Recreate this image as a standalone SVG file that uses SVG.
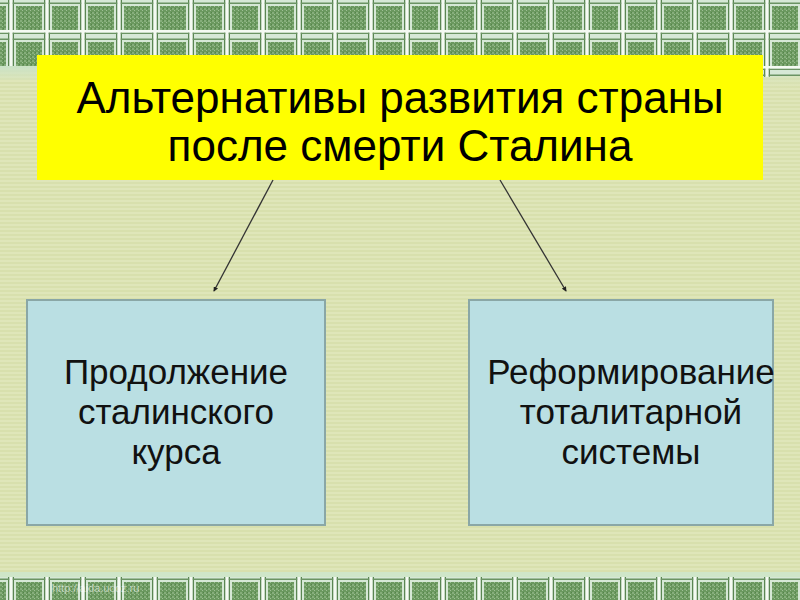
<svg xmlns="http://www.w3.org/2000/svg" width="800" height="600" viewBox="0 0 800 600">
<defs>
<pattern id="stripes" width="4" height="4" patternUnits="userSpaceOnUse">
<rect width="4" height="4" fill="#dfe6b9"/>
<rect y="2" width="4" height="2" fill="#d8e0ad"/>
</pattern>
<pattern id="texture" width="4" height="4" patternUnits="userSpaceOnUse">
<rect width="4" height="4" fill="#6a985e"/>
<rect width="2" height="2" fill="#86ae7b"/>
<rect x="2" y="2" width="1" height="1" fill="#9ec095"/>
<rect x="3" y="0" width="1" height="1" fill="#55834b"/>
</pattern>
<pattern id="plaid" width="36" height="36" patternUnits="userSpaceOnUse">
<rect width="36" height="36" fill="#d6e8d6"/>
<rect x="16" y="6" width="26" height="24" fill="url(#texture)"/>
<rect x="-20" y="6" width="26" height="24" fill="url(#texture)"/>
<rect x="16" y="-30" width="26" height="24" fill="url(#texture)"/>
<rect x="-20" y="-30" width="26" height="24" fill="url(#texture)"/>
<rect x="8" y="0" width="1.5" height="36" fill="#5a8652"/>
<rect x="12.5" y="0" width="1.5" height="36" fill="#5a8652"/>
<rect x="0" y="2.5" width="36" height="1.5" fill="#6b9463"/>
<rect x="0" y="32.5" width="36" height="1.5" fill="#6b9463"/>
<rect x="9.5" y="0" width="3" height="36" fill="#f4faf2"/>
<rect x="0" y="30" width="36" height="2.5" fill="#f4faf2"/>
</pattern>
<linearGradient id="fade" x1="0" y1="0" x2="0" y2="1">
<stop offset="0" stop-color="#c9e2c9"/>
<stop offset="1" stop-color="#dfe6b9" stop-opacity="0"/>
</linearGradient>
<marker id="arrow" viewBox="0 0 6 6" refX="5" refY="3" markerWidth="5" markerHeight="5" orient="auto" markerUnits="userSpaceOnUse">
<path d="M0,0 L6,3 L0,6 z" fill="#222"/>
</marker>
</defs>
<style>
.box{fill:#badfe3;stroke:#8aa7a6;stroke-width:2}
.title{font-family:"Liberation Sans",Arial,sans-serif;font-size:44px;fill:#000;text-anchor:middle}
.lbl{font-family:"Liberation Sans",Arial,sans-serif;font-size:35px;fill:#111;text-anchor:middle}
.conn{stroke:#333;stroke-width:1.3;fill:none}
</style>
<g id="background">
<rect width="800" height="600" fill="url(#stripes)"/>
<path d="M0,0 H800 V76 Q600,82 400,74 Q200,66 0,66 Z" fill="url(#plaid)"/>
<path d="M0,66 Q200,66 400,74 Q600,82 800,76 V90 Q600,92 400,86 Q200,80 0,80 Z" fill="url(#fade)"/>
<rect x="0" y="572" width="800" height="6" fill="#cfe6c8"/>
<rect x="0" y="577" width="800" height="23" fill="url(#plaid)"/>
<text x="52" y="592" font-family="'Liberation Sans',Arial,sans-serif" font-size="11" fill="#ffffff" opacity="0.55">http://aida.ucoz.ru</text>
</g>
<g id="title">
<rect x="37" y="55" width="726" height="125" fill="#ffff00"/>
<text class="title" x="400" y="113">Альтернативы развития страны</text>
<text class="title" x="400" y="161">после смерти Сталина</text>
</g>
<g id="connectors">
<line class="conn" x1="273" y1="180" x2="214" y2="291" marker-end="url(#arrow)"/>
<line class="conn" x1="500" y1="180" x2="566" y2="291" marker-end="url(#arrow)"/>
</g>
<g id="left">
<rect class="box" x="27" y="300" width="298" height="225"/>
<text class="lbl" x="176" y="384">Продолжение</text>
<text class="lbl" x="176" y="424">сталинского</text>
<text class="lbl" x="176" y="464">курса</text>
</g>
<g id="right">
<rect class="box" x="469" y="300" width="304" height="225"/>
<text class="lbl" x="631" y="384">Реформирование</text>
<text class="lbl" x="631" y="424">тоталитарной</text>
<text class="lbl" x="631" y="464">системы</text>
</g>
</svg>
